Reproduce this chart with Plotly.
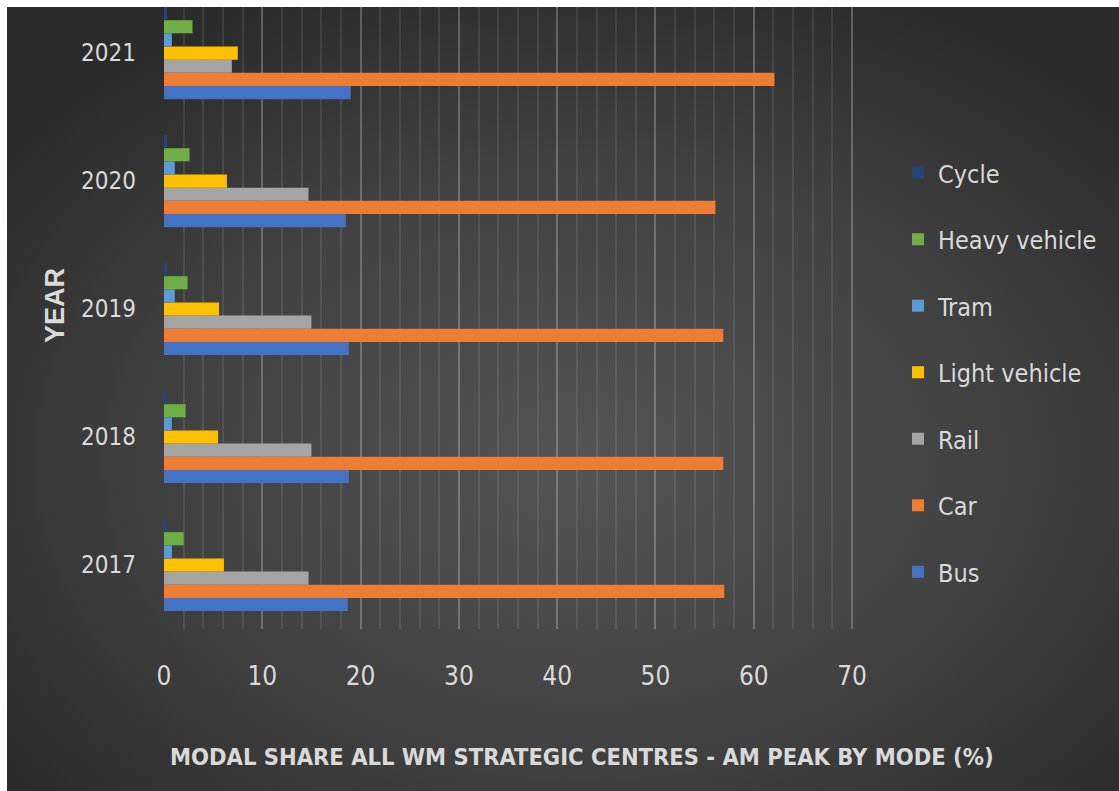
import base64
import plotly.graph_objects as go

# Modal share (%) by year and mode
years = ["2017", "2018", "2019", "2020", "2021"]
bus = [18.7, 18.8, 18.8, 18.5, 19.0]
car = [57.0, 56.9, 56.9, 56.1, 62.1]
rail = [14.7, 15.0, 15.0, 14.7, 6.9]
light_vehicle = [6.1, 5.5, 5.6, 6.4, 7.5]
tram = [0.8, 0.8, 1.1, 1.1, 0.8]
heavy_vehicle = [2.0, 2.2, 2.4, 2.6, 2.9]
cycle = [0.3, 0.3, 0.3, 0.3, 0.3]

series = [
    ("Bus", bus, "#4472C4"),
    ("Car", car, "#ED7D31"),
    ("Rail", rail, "#A5A5A5"),
    ("Light vehicle", light_vehicle, "#FFC000"),
    ("Tram", tram, "#5B9BD5"),
    ("Heavy vehicle", heavy_vehicle, "#70AD47"),
    ("Cycle", cycle, "#264478"),
]

W, H = 1119, 791
X0_PX, X70_PX = 164, 852          # pixel columns of 0 % and 70 %
XMAX = 70.4                        # a little headroom so the 70 gridline is drawn
PW = round((X70_PX - X0_PX) / 70 * XMAX)
ML, MT, MB = X0_PX, 7, 162
MR = W - ML - PW
PH = H - MT - MB

NARROW = "DejaVu Sans Condensed, Liberation Sans Narrow, sans-serif"
TEXT = "#d9d9d9"

fig = go.Figure()
n = len(series)
for i, (name, vals, color) in enumerate(series):
    fig.add_trace(go.Bar(
        y=years, x=vals, name=name, orientation="h",
        marker=dict(color=color, line=dict(width=0)),
        legendgroup=name, legendrank=n - i,
    ))

# dark radial backdrop behind the whole chart
svg = f"""<svg xmlns='http://www.w3.org/2000/svg' width='{W-7}' height='{H-7}'>
<defs><radialGradient id='g' cx='52%' cy='58%' r='65%'>
<stop offset='0%' stop-color='#545454'/>
<stop offset='60%' stop-color='#404040'/>
<stop offset='100%' stop-color='#2b2b2b'/>
</radialGradient></defs>
<rect width='100%' height='100%' fill='url(#g)'/></svg>"""
src = "data:image/svg+xml;base64," + base64.b64encode(svg.encode()).decode()

fig.update_layout(
    width=W, height=H,
    margin=dict(l=ML, r=MR, t=MT, b=MB, autoexpand=False),
    paper_bgcolor="white",
    plot_bgcolor="rgba(0,0,0,0)",
    barmode="group",
    bargap=0.28,
    bargroupgap=0,
    images=[dict(
        source=src, xref="paper", yref="paper",
        x=(7 - ML) / PW, y=1.0, sizex=(W - 7) / PW, sizey=(H - 7) / PH,
        xanchor="left", yanchor="top", sizing="stretch", layer="below",
    )],
    xaxis=dict(
        range=[0, XMAX], tickvals=[0, 10, 20, 30, 40, 50, 60, 70],
        showline=False, zeroline=False,
        showgrid=True, gridcolor="rgba(255,255,255,0.17)", gridwidth=2,
        minor=dict(tickvals=list(range(0, 71, 2)), showgrid=True,
                   gridcolor="rgba(255,255,255,0.09)", gridwidth=2),
        tickfont=dict(family=NARROW, size=26, color=TEXT),
        ticks="", ticklabelstandoff=29,
    ),
    yaxis=dict(
        type="category", categoryorder="array", categoryarray=years,
        range=[-0.5, 4.36], showgrid=False, zeroline=False, showline=False,
        tickfont=dict(family=NARROW, size=24, color=TEXT),
        ticks="", ticklabelstandoff=27,
    ),
    legend=dict(
        traceorder="grouped", tracegroupgap=31,
        x=(898 - ML) / PW, y=1 - (150 - MT) / PH, xanchor="left", yanchor="top",
        font=dict(family=NARROW, size=25, color=TEXT),
        bgcolor="rgba(0,0,0,0)", itemwidth=30,
    ),
    annotations=[
        dict(text="<b>MODAL SHARE ALL WM STRATEGIC CENTRES - AM PEAK BY MODE (%)</b>",
             xref="paper", yref="paper", x=(582 - ML) / PW, y=1 - (757 - MT) / PH,
             showarrow=False, xanchor="center", yanchor="middle",
             font=dict(family=NARROW, size=23.5, color=TEXT)),
        dict(text="<b>YEAR</b>", textangle=-90,
             xref="paper", yref="paper", x=(55 - ML) / PW, y=1 - (306 - MT) / PH,
             showarrow=False, xanchor="center", yanchor="middle",
             font=dict(family="Liberation Sans, Arial, sans-serif", size=27, color=TEXT)),
    ],
    showlegend=True,
)

fig.write_html("out.html")
